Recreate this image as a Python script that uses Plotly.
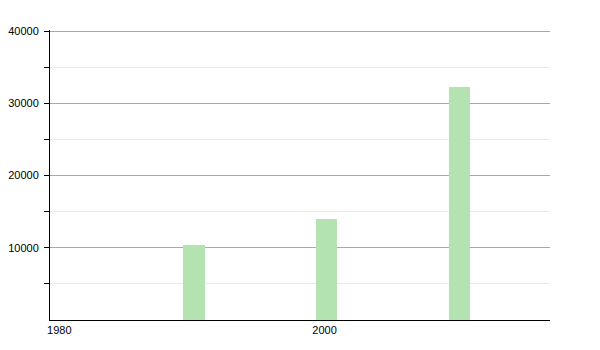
import plotly.graph_objects as go

years = [1990, 2000, 2010]
values = [10400, 14000, 32200]
x_ticks = [1980, 2000]
y_ticks = [10000, 20000, 30000, 40000]

fig = go.Figure(go.Bar(x=years, y=values, width=1.6, offset=-0.65,
                       marker=dict(color="#b3e3b0", line=dict(width=0))))

fig.update_layout(
    width=600, height=350,
    margin=dict(l=50, r=50, t=30, b=30),
    plot_bgcolor="white", paper_bgcolor="white",
    font=dict(family="Liberation Sans, Arial, sans-serif", size=11, color="black"),
    showlegend=False,
    bargap=0,
)
fig.update_xaxes(
    range=[1979.3, 2017], tickvals=x_ticks, ticktext=[str(v) for v in x_ticks],
    showline=True, linecolor="black", linewidth=1, ticks="", showgrid=False, zeroline=False,
    automargin=False,
)
fig.update_yaxes(
    range=[0, 40140], tickvals=y_ticks, ticktext=[str(v) for v in y_ticks],
    showline=True, linecolor="black", linewidth=1, ticks="outside", ticklen=5, tickcolor="black",
    ticklabelstandoff=3, automargin=False,
    showgrid=True, gridcolor="#aaaaaa", gridwidth=1, zeroline=False,
    minor=dict(tickvals=[5000, 15000, 25000, 35000], ticks="outside", ticklen=5, tickcolor="black",
               showgrid=True, gridcolor="#e8e8e8", gridwidth=1),
)
fig.write_html("out.html")
